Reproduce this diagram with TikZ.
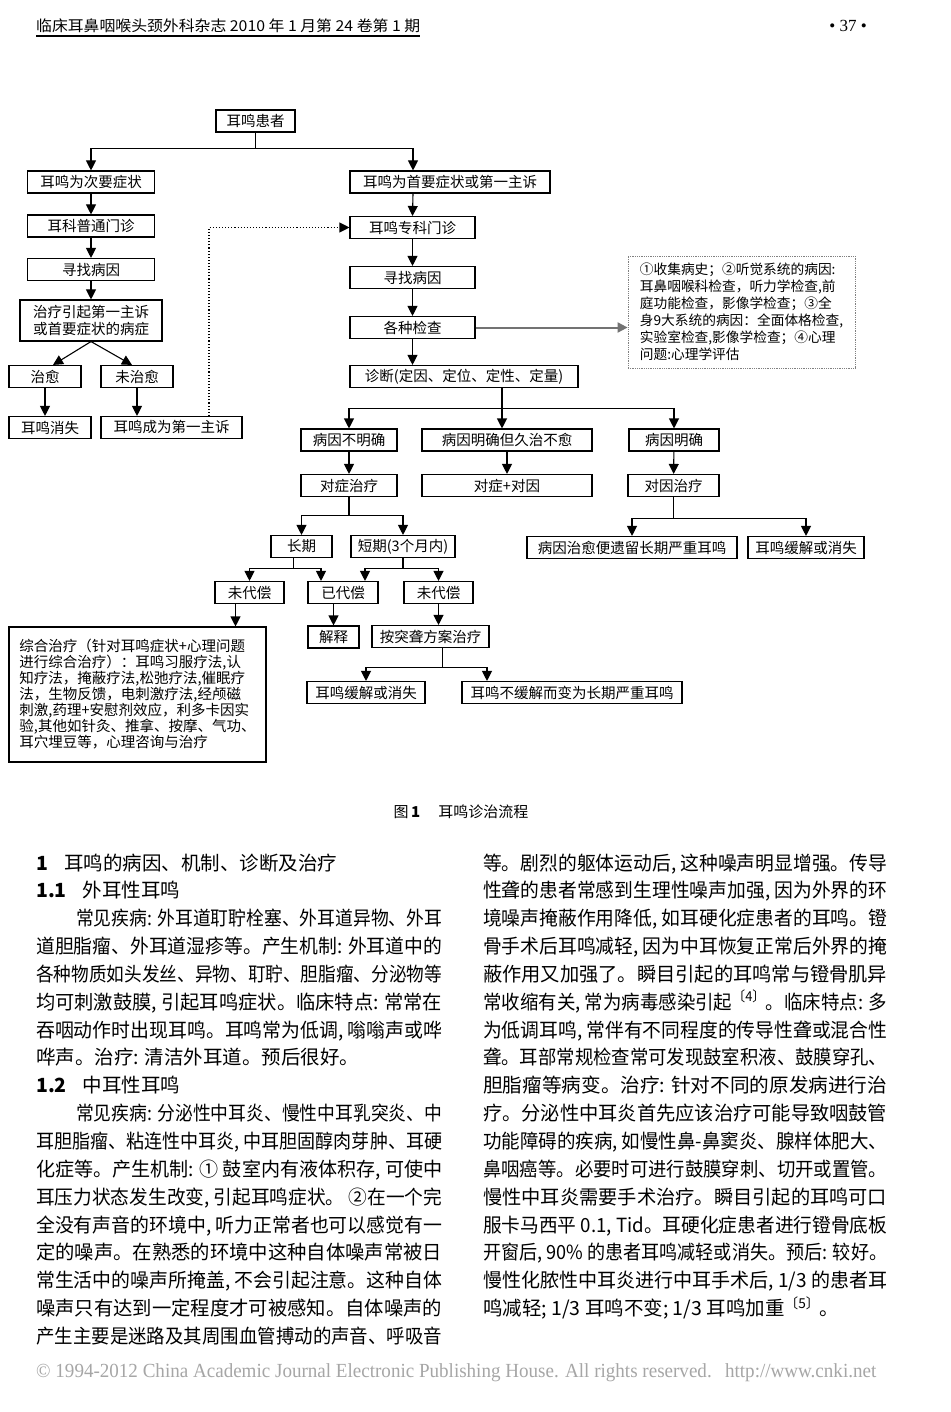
\documentclass[tikz,border=0pt]{standalone}
\usepackage{fontspec}
\usepackage{graphicx}
\setmainfont{Liberation Serif}
\newfontfamily\cjk{Noto Sans CJK SC}
\usetikzlibrary{arrows.meta,positioning}

\newcommand{\justline}[2]{\resizebox{#1}{\height}{#2}}

\tikzset{
  fbox/.style={draw,line width=1.1pt,minimum height=22pt,inner sep=0pt,
    font=\cjk\fontsize{14.5}{17}\selectfont},
  arr/.style={line width=1.1pt,-{Triangle[length=10pt,width=10pt]}},
  dotarr/.style={line width=1.1pt,dotted,-{Triangle[length=10pt,width=10pt]}},
  grayarr/.style={draw=black!55,line width=2pt,-{Triangle[length=10pt,width=10pt]}},
  bodytxt/.style={anchor=base west,inner sep=0pt,font=\cjk\fontsize{19.5}{20}\selectfont},
}

\begin{document}
\begin{tikzpicture}[x=1pt,y=-1pt]
  \useasboundingbox (0,0) rectangle (950,1412);
  \fill[white] (0,0) rectangle (950,1412);

  % Header
  \node[anchor=base west,inner sep=0pt,font=\cjk\fontsize{15}{16}\selectfont] (header) at (36,32)
    {\justline{384pt}{临床耳鼻咽喉头颈外科杂志 2010 年 1 月第 24 卷第 1 期}};
  \draw[line width=1.2pt] ([yshift=-4pt]header.base west) -- ([yshift=-4pt]header.base east);
  \node[anchor=base,inner sep=0pt,font=\fontsize{17}{18}\selectfont] (pagenr) at (848,32) {• 37 •};

  % Flowchart: left branch
  \node[fbox,minimum width=79pt] (huanzhe) at (255.5,121) {耳鸣患者};
  \node[fbox,minimum width=127pt] (ciyao) at (91,182) {耳鸣为次要症状};
  \node[fbox,minimum width=127pt] (putong) at (91,226) {耳科普通门诊};
  \node[fbox,minimum width=127pt] (xunl) at (91,269.5) {寻找病因};
  \node[fbox,minimum width=142pt,minimum height=41pt,align=center] (zhiliao) at (91,320.5)
    {治疗引起第一主诉\\或首要症状的病症};
  \node[fbox,minimum width=72pt] (zhiyu) at (45,376.5) {治愈};
  \node[fbox,minimum width=72pt] (weizhiyu) at (137,376.5) {未治愈};
  \node[fbox,minimum width=82pt] (xiaoshi) at (50,427.5) {耳鸣消失};
  \node[fbox,minimum width=141pt] (chengwei) at (171.5,427.5) {耳鸣成为第一主诉};

  % Flowchart: right branch
  \node[fbox,minimum width=200pt] (shouyao) at (450,182) {耳鸣为首要症状或第一主诉};
  \node[fbox,minimum width=125pt] (zhuanke) at (412.5,227.5) {耳鸣专科门诊};
  \node[fbox,minimum width=125pt] (xunr) at (412.5,277.5) {寻找病因};
  \node[fbox,minimum width=125pt] (jiancha) at (412.5,327.5) {各种检查};
  \node[fbox,minimum width=228pt] (zhenduan) at (464,376.5) {诊断(定因、定位、定性、定量)};
  \node[draw=black!50,densely dotted,line width=0.8pt,minimum width=227pt,minimum height=112pt,
        inner sep=0pt,align=left,font=\cjk\fontsize{13.7}{17}\selectfont] (info) at (741.5,312)
    {①收集病史；②听觉系统的病因:\\
     耳鼻咽喉科检查，听力学检查,前\\
     庭功能检查，影像学检查；③全\\
     身9大系统的病因：全面体格检查,\\
     实验室检查,影像学检查；④心理\\
     问题:心理学评估};

  \node[fbox,minimum width=96pt] (bumingque) at (349,440) {病因不明确};
  \node[fbox,minimum width=170pt] (jiuzhi) at (507,440) {病因明确但久治不愈};
  \node[fbox,minimum width=90pt] (mingque) at (674,440) {病因明确};
  \node[fbox,minimum width=96pt] (duizheng) at (349,485.5) {对症治疗};
  \node[fbox,minimum width=170pt] (duizhengyin) at (507,485.5) {对症+对因};
  \node[fbox,minimum width=91pt] (duiyin) at (673.5,485.5) {对因治疗};
  \node[fbox,minimum width=210pt] (yiliu) at (632,547.5) {病因治愈便遗留长期严重耳鸣};
  \node[fbox,minimum width=116pt] (huanjie2) at (806,547.5) {耳鸣缓解或消失};

  \node[fbox,minimum width=61pt] (changqi) at (301.5,546.5) {长期};
  \node[fbox,minimum width=104pt] (duanqi) at (403,546.5) {短期(3个月内)};
  \node[fbox,minimum width=69pt] (weidaiL) at (249.5,592.5) {未代偿};
  \node[fbox,minimum width=70pt] (yidai) at (343,592.5) {已代偿};
  \node[fbox,minimum width=69pt] (weidaiR) at (438.5,592.5) {未代偿};
  \node[fbox,minimum width=51pt] (jieshi) at (333.5,637) {解释};
  \node[fbox,minimum width=117pt] (tulong) at (430.5,636.5) {按突聋方案治疗};
  \node[fbox,minimum width=118pt] (huanjie1) at (366,692.5) {耳鸣缓解或消失};
  \node[fbox,minimum width=220pt] (buhuanjie) at (572,692.5) {耳鸣不缓解而变为长期严重耳鸣};
  \node[fbox,minimum width=257pt,minimum height=135pt,align=left,
        font=\cjk\fontsize{14.5}{16}\selectfont] (zonghe) at (137.5,694.5)
    {综合治疗（针对耳鸣症状+心理问题\\
     进行综合治疗）：耳鸣习服疗法,认\\
     知疗法，掩蔽疗法,松弛疗法,催眠疗\\
     法，生物反馈，电刺激疗法,经颅磁\\
     刺激,药理+安慰剂效应，利多卡因实\\
     验,其他如针灸、推拿、按摩、气功、\\
     耳穴埋豆等，心理咨询与治疗};

  % Connectors
  \draw[arr] (huanzhe.south) -- ++(0,16) -| (ciyao.north);
  \draw[arr] (huanzhe.south) -- ++(0,16) -| ([xshift=-37pt]shouyao.north);
  \draw[arr] (ciyao) -- (putong);
  \draw[arr] (putong) -- (xunl);
  \draw[arr] (xunl) -- (zhiliao);
  \draw[arr] (zhiliao.south) -- ([xshift=8pt]zhiyu.north);
  \draw[arr] (zhiliao.south) -- ([xshift=-5pt]weizhiyu.north);
  \draw[arr] (zhiyu.south) -- (zhiyu.south |- xiaoshi.north);
  \draw[arr] (weizhiyu.south) -- (weizhiyu.south |- chengwei.north);
  \draw[dotarr] ([xshift=37.5pt]chengwei.north) |- (zhuanke.west);

  \draw[arr] ([xshift=-37pt]shouyao.south) -- (zhuanke.north);
  \draw[arr] (zhuanke) -- (xunr);
  \draw[arr] (xunr) -- (jiancha);
  \draw[arr] (jiancha.south) -- (jiancha.south |- zhenduan.north);
  \draw[grayarr] (jiancha.east) -- (jiancha.east -| info.west);

  \draw[arr] ([xshift=38pt]zhenduan.south) -- ++(0,20) -| (bumingque.north);
  \draw[arr] ([xshift=38pt]zhenduan.south) -- ++(0,20) -| (mingque.north);
  \draw[arr] ([xshift=38pt]zhenduan.south) -- ([xshift=38pt]zhenduan.south |- jiuzhi.north);
  \draw[arr] (bumingque) -- (duizheng);
  \draw[arr] (jiuzhi) -- (duizhengyin);
  \draw[arr] (mingque) -- (duiyin);
  \draw[arr] (duiyin.south) -- ++(0,21) -| (yiliu.north);
  \draw[arr] (duiyin.south) -- ++(0,21) -| (huanjie2.north);

  \draw[arr] (duizheng.south) -- ++(0,18) -| (changqi.north);
  \draw[arr] (duizheng.south) -- ++(0,18) -| (duanqi.north);
  \draw[arr] ([xshift=-8pt]changqi.south) -- ++(0,10) -| (weidaiL.north);
  \draw[arr] ([xshift=-8pt]changqi.south) -- ++(0,10) -| ([xshift=-22pt]yidai.north);
  \draw[arr] (duanqi.south) -- ++(0,10) -| ([xshift=22pt]yidai.north);
  \draw[arr] (duanqi.south) -- ++(0,10) -| (weidaiR.north);
  \draw[arr] (jieshi.north |- yidai.south) -- (jieshi.north);
  \draw[arr] (weidaiR.south) -- (weidaiR.south |- tulong.north);
  \draw[arr] ([xshift=-14pt]weidaiL.south) -- ([xshift=-14pt]weidaiL.south |- zonghe.north);
  \draw[arr] ([xshift=12pt]tulong.south) -- ++(0,19) -| (huanjie1.north);
  \draw[arr] ([xshift=12pt]tulong.south) -- ++(0,19) -| ([xshift=-85pt]buhuanjie.north);

  % Caption
  \node[inner sep=0pt,font=\cjk\fontsize{15}{16}\selectfont] (caption) at (461,812)
    {图\,\textbf{1}\hspace{18pt}耳鸣诊治流程};

  % Body text, left column
  \node[bodytxt] (l1) at (36,870) {\textbf{1}\hspace{16pt}耳鸣的病因、机制、诊断及治疗};
  \node[bodytxt] (l2) at (36,897.9) {\textbf{1.1}\hspace{16pt}外耳性耳鸣};
  \node[bodytxt] (l3) at (76,925.7) {\justline{366pt}{常见疾病: 外耳道耵聍栓塞、外耳道异物、外耳}};
  \node[bodytxt] (l4) at (36,953.6) {\justline{406pt}{道胆脂瘤、外耳道湿疹等。产生机制: 外耳道中的}};
  \node[bodytxt] (l5) at (36,981.4) {\justline{406pt}{各种物质如头发丝、异物、耵聍、胆脂瘤、分泌物等}};
  \node[bodytxt] (l6) at (36,1009.3) {\justline{406pt}{均可刺激鼓膜, 引起耳鸣症状。临床特点: 常常在}};
  \node[bodytxt] (l7) at (36,1037.1) {\justline{406pt}{吞咽动作时出现耳鸣。耳鸣常为低调, 嗡嗡声或哗}};
  \node[bodytxt] (l8) at (36,1064.9) {哗声。治疗: 清洁外耳道。预后很好。};
  \node[bodytxt] (l9) at (36,1092.8) {\textbf{1.2}\hspace{16pt}中耳性耳鸣};
  \node[bodytxt] (l10) at (76,1120.7) {\justline{366pt}{常见疾病: 分泌性中耳炎、慢性中耳乳突炎、中}};
  \node[bodytxt] (l11) at (36,1148.5) {\justline{406pt}{耳胆脂瘤、粘连性中耳炎, 中耳胆固醇肉芽肿、耳硬}};
  \node[bodytxt] (l12) at (36,1176.4) {\justline{406pt}{化症等。产生机制: ① 鼓室内有液体积存, 可使中}};
  \node[bodytxt] (l13) at (36,1204.2) {\justline{406pt}{耳压力状态发生改变, 引起耳鸣症状。 ②在一个完}};
  \node[bodytxt] (l14) at (36,1232.1) {\justline{406pt}{全没有声音的环境中, 听力正常者也可以感觉有一}};
  \node[bodytxt] (l15) at (36,1259.9) {\justline{406pt}{定的噪声。在熟悉的环境中这种自体噪声常被日}};
  \node[bodytxt] (l16) at (36,1287.8) {\justline{406pt}{常生活中的噪声所掩盖, 不会引起注意。这种自体}};
  \node[bodytxt] (l17) at (36,1315.6) {\justline{406pt}{噪声只有达到一定程度才可被感知。自体噪声的}};
  \node[bodytxt] (l18) at (36,1343.5) {\justline{406pt}{产生主要是迷路及其周围血管搏动的声音、呼吸音}};

  % Body text, right column
  \node[bodytxt] (r1) at (483,870) {\justline{404pt}{等。剧烈的躯体运动后, 这种噪声明显增强。传导}};
  \node[bodytxt] (r2) at (483,897.9) {\justline{404pt}{性聋的患者常感到生理性噪声加强, 因为外界的环}};
  \node[bodytxt] (r3) at (483,925.7) {\justline{404pt}{境噪声掩蔽作用降低, 如耳硬化症患者的耳鸣。镫}};
  \node[bodytxt] (r4) at (483,953.6) {\justline{404pt}{骨手术后耳鸣减轻, 因为中耳恢复正常后外界的掩}};
  \node[bodytxt] (r5) at (483,981.4) {\justline{404pt}{蔽作用又加强了。瞬目引起的耳鸣常与镫骨肌异}};
  \node[bodytxt] (r6) at (483,1009.3) {\justline{404pt}{常收缩有关, 常为病毒感染引起\textsuperscript{〔4〕}。临床特点: 多}};
  \node[bodytxt] (r7) at (483,1037.1) {\justline{404pt}{为低调耳鸣, 常伴有不同程度的传导性聋或混合性}};
  \node[bodytxt] (r8) at (483,1064.9) {\justline{404pt}{聋。耳部常规检查常可发现鼓室积液、鼓膜穿孔、}};
  \node[bodytxt] (r9) at (483,1092.8) {\justline{404pt}{胆脂瘤等病变。治疗: 针对不同的原发病进行治}};
  \node[bodytxt] (r10) at (483,1120.7) {\justline{404pt}{疗。分泌性中耳炎首先应该治疗可能导致咽鼓管}};
  \node[bodytxt] (r11) at (483,1148.5) {\justline{404pt}{功能障碍的疾病, 如慢性鼻-鼻窦炎、腺样体肥大、}};
  \node[bodytxt] (r12) at (483,1176.4) {\justline{404pt}{鼻咽癌等。必要时可进行鼓膜穿刺、切开或置管。}};
  \node[bodytxt] (r13) at (483,1204.2) {\justline{404pt}{慢性中耳炎需要手术治疗。瞬目引起的耳鸣可口}};
  \node[bodytxt] (r14) at (483,1232.1) {\justline{404pt}{服卡马西平 0.1, Tid。耳硬化症患者进行镫骨底板}};
  \node[bodytxt] (r15) at (483,1259.9) {\justline{404pt}{开窗后, 90\% 的患者耳鸣减轻或消失。预后: 较好。}};
  \node[bodytxt] (r16) at (483,1287.8) {\justline{404pt}{慢性化脓性中耳炎进行中耳手术后, 1/3 的患者耳}};
  \node[bodytxt] (r17) at (483,1315.6) {鸣减轻; 1/3 耳鸣不变; 1/3 耳鸣加重\textsuperscript{〔5〕}。};

  % Footer
  \node[anchor=base west,inner sep=0pt,text=black!35,font=\fontsize{20}{22}\selectfont] (footer) at (36,1377)
    {\justline{840pt}{© 1994-2012 China Academic Journal Electronic Publishing House. All rights reserved.\hspace{14pt}http://www.cnki.net}};
\end{tikzpicture}
\end{document}
